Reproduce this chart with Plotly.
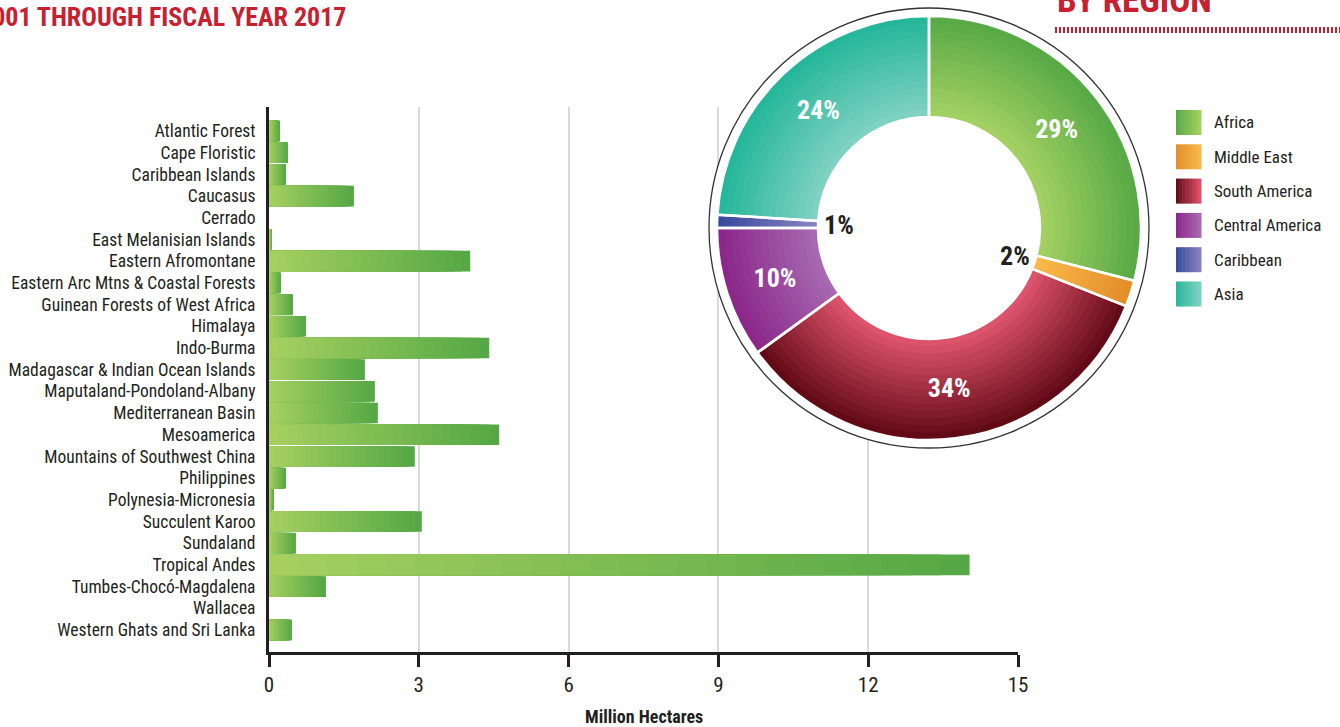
import math
import plotly.graph_objects as go

# ---------------- data ----------------
categories = [
    "Atlantic Forest", "Cape Floristic", "Caribbean Islands", "Caucasus", "Cerrado",
    "East Melanisian Islands", "Eastern Afromontane", "Eastern Arc Mtns & Coastal Forests",
    "Guinean Forests of West Africa", "Himalaya", "Indo-Burma",
    "Madagascar & Indian Ocean Islands", "Maputaland-Pondoland-Albany",
    "Mediterranean Basin", "Mesoamerica", "Mountains of Southwest China", "Philippines",
    "Polynesia-Micronesia", "Succulent Karoo", "Sundaland", "Tropical Andes",
    "Tumbes-Chocó-Magdalena", "Wallacea", "Western Ghats and Sri Lanka",
]
hectares = [0.22, 0.38, 0.34, 1.70, 0.0, 0.06, 4.03, 0.24, 0.48, 0.74, 4.41,
            1.92, 2.12, 2.18, 4.61, 2.92, 0.34, 0.10, 3.06, 0.54, 14.03, 1.14, 0.0, 0.46]
x_ticks = [0, 3, 6, 9, 12, 15]

regions = ["Africa", "Middle East", "South America", "Central America", "Caribbean", "Asia"]
shares = [29, 2, 34, 10, 1, 24]
share_labels = ["29%", "2%", "34%", "10%", "1%", "24%"]

# ---------------- style ----------------
W, H = 1340, 727
FONT = "Roboto Condensed, DejaVu Sans Condensed, Arial Narrow, Liberation Sans Narrow, Roboto, sans-serif"
DARK = "#231F20"
RED = "#C8202F"
BAR_LIGHT = "#A6CF60"
BAR_DARK = "#55A845"
region_inner = ["#A6D264", "#F9BA4C", "#E2566F", "#A86CB2", "#8A86C4", "#82D2C4"]
region_outer = ["#55A845", "#E38C27", "#5E0714", "#8A2489", "#36479B", "#22B698"]


def px(x):
    return x / W


def py(y):
    return 1 - y / H


def hex2rgb(h):
    h = h.lstrip("#")
    return tuple(int(h[i:i + 2], 16) for i in (0, 2, 4))


def lerp(c1, c2, t):
    a, b = hex2rgb(c1), hex2rgb(c2)
    return "rgb({},{},{})".format(*[round(a[i] + (b[i] - a[i]) * t) for i in range(3)])


fig = go.Figure()

# ---------------- bar chart (gradient via overlaid layers) ----------------
NB = 24
for k in range(NB):
    frac = (NB - k) / NB
    fig.add_trace(go.Bar(
        y=categories, x=[v * frac for v in hectares], orientation="h",
        marker=dict(color=lerp(BAR_DARK, BAR_LIGHT, k / (NB - 1)), line=dict(width=0)),
        showlegend=False, hoverinfo="skip",
    ))

# ---------------- donut ----------------
CX, CY, R, RH, RC = 929, 228, 212, 111, 220


def dom(r):
    return dict(x=[px(CX - r), px(CX + r)], y=[py(CY + r), py(CY - r)])


# white backing disc with thin outer ring
fig.add_trace(go.Pie(values=[1], labels=[" "], sort=False, domain=dom(RC),
                     marker=dict(colors=["white"], line=dict(color="#333333", width=1.3)),
                     textinfo="none", showlegend=False, hoverinfo="skip"))

# radial gradient layers (outermost first)
NR = 14
for k in reversed(range(NR)):
    r_out = RH + (R - RH) * (k + 1) / NR
    t = (k + 0.5) / NR
    fig.add_trace(go.Pie(
        values=shares, labels=regions, sort=False, direction="clockwise", rotation=0,
        hole=RH / r_out, domain=dom(r_out),
        marker=dict(colors=[lerp(region_inner[i], region_outer[i], t) for i in range(len(regions))],
                    line=dict(width=0)),
        textinfo="none", showlegend=False, hoverinfo="skip",
    ))

# top layer: separators + labels of big slices
big_text = [lab if v >= 5 else "" for lab, v in zip(share_labels, shares)]
fig.add_trace(go.Pie(
    values=shares, labels=regions, sort=False, direction="clockwise", rotation=0,
    hole=RH / R, domain=dom(R),
    marker=dict(colors=["rgba(0,0,0,0)"] * len(regions), line=dict(color="white", width=2.5)),
    text=big_text, textinfo="text", textposition="inside", insidetextorientation="horizontal",
    textfont=dict(family=FONT, size=26, color="white", weight="bold"),
    showlegend=False, hoverinfo="skip",
))

annotations = []
shapes = []

# small-slice labels placed inside the hole at their mid angle
total = sum(shares)
cum = 0
for lab, v in zip(share_labels, shares):
    mid = (cum + v / 2) / total * 2 * math.pi
    cum += v
    if v < 5:
        rr = 90
        annotations.append(dict(
            x=px(CX + rr * math.sin(mid)), y=py(CY - rr * math.cos(mid)),
            xref="paper", yref="paper", text="<b>%s</b>" % lab, showarrow=False,
            font=dict(family=FONT, size=26, color=DARK), xanchor="center", yanchor="middle"))

# legend (custom, large gradient swatches)
LX, LY0, LDY, SW = 1176, 122.5, 34.3, 25
for i, reg in enumerate(regions):
    yc = LY0 + i * LDY
    NS = 8
    for j in range(NS):
        shapes.append(dict(
            type="rect", xref="paper", yref="paper",
            x0=px(LX + SW * j / NS), x1=px(LX + SW * (j + 1) / NS + 0.5),
            y0=py(yc + SW / 2), y1=py(yc - SW / 2),
            fillcolor=lerp(region_outer[i], region_inner[i], (j + 0.5) / NS),
            line=dict(width=0), layer="above"))
    annotations.append(dict(
        x=px(1212), y=py(yc), xref="paper", yref="paper", text=reg, showarrow=False,
        xanchor="left", yanchor="middle", font=dict(family=FONT, size=17, color=DARK)))

# titles
annotations.append(dict(
    x=px(348), y=py(17), xref="paper", yref="paper", xanchor="right", yanchor="middle",
    text="<b>2001 THROUGH FISCAL YEAR 2017</b>", showarrow=False,
    font=dict(family=FONT, size=26, color=RED)))
annotations.append(dict(
    x=px(1055), y=py(1.0), xref="paper", yref="paper", xanchor="left", yanchor="middle",
    text="<b>BY REGION</b>", showarrow=False,
    font=dict(family=FONT, size=35, color=RED)))
shapes.append(dict(type="line", xref="paper", yref="paper",
                   x0=px(1055), x1=px(1340), y0=py(30), y1=py(30),
                   line=dict(color=RED, width=6, dash="2px,2px")))

# x-axis title
annotations.append(dict(
    x=px((269 + 1018) / 2), y=py(716), xref="paper", yref="paper",
    text="<b>Million Hectares</b>", showarrow=False, xanchor="center", yanchor="middle",
    font=dict(family=FONT, size=18, color=DARK)))

# category axis: first bar centre at y=131 px, last at y=630 px
n = len(categories)
step = (630 - 131) / (n - 1)
y_top = (107 - 131) / step
y_bot = (652 - 131) / step

fig.update_layout(
    width=W, height=H,
    margin=dict(l=0, r=0, t=0, b=0, autoexpand=False),
    paper_bgcolor="white", plot_bgcolor="white",
    barmode="overlay", bargap=0.05,
    showlegend=False,
    annotations=annotations, shapes=shapes,
    xaxis=dict(
        domain=[px(269), px(1018)], range=[0, 15], tickvals=x_ticks, automargin=False,
        showgrid=True, gridcolor="#DADADA", gridwidth=1.5, zeroline=False,
        showline=True, linecolor=DARK, linewidth=3,
        ticks="outside", ticklen=12, tickwidth=2.5, tickcolor=DARK,
        tickfont=dict(family=FONT, size=21, color=DARK), fixedrange=True,
    ),
    yaxis=dict(
        domain=[py(652), py(107)], categoryorder="array", categoryarray=categories,
        tickmode="array", tickvals=categories, ticktext=categories, automargin=False,
        range=[y_bot, y_top], showgrid=False, zeroline=False,
        showline=True, linecolor=DARK, linewidth=3, ticks="",
        ticklabelstandoff=7,
        tickfont=dict(family=FONT, size=17.5, color=DARK), fixedrange=True,
    ),
)

fig.write_html("out.html", config={"displayModeBar": False},
               post_script="document.body.style.margin='0';")
